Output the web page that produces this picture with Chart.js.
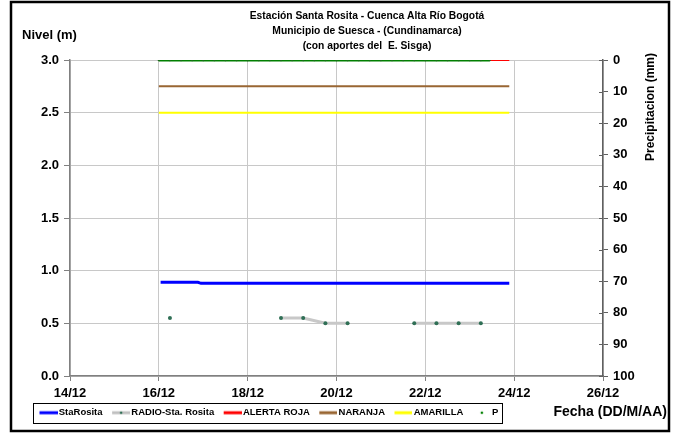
<!DOCTYPE html>
<html>
<head>
<meta charset="utf-8">
<script src="https://cdn.jsdelivr.net/npm/chart.js@4.4.0/dist/chart.umd.min.js"></script>
<style>
  html, body { margin: 0; padding: 0; background: #fff; }
  #wrap { width: 674px; height: 434px; }
</style>
</head>
<body>
<div id="wrap"><canvas id="levelChart" width="674" height="434"></canvas></div>
<script>
// Chart data (x = day of December)
const titleLines = [
  'Estación Santa Rosita - Cuenca Alta Río Bogotá',
  'Municipio de Suesca - (Cundinamarca)',
  '(con aportes del  E. Sisga)'
];
const dayTicks = [14, 16, 18, 20, 22, 24, 26];

const staRositaDays = [16.04, 16.88, 16.95, 23.89];
const staRositaLevel = [0.89, 0.89, 0.88, 0.88];

const radioDays = [16.25, 16.75, 18.75, 19.25, 19.75, 20.25, 21.25, 21.75, 22.25, 22.75, 23.25];
const radioLevel = [0.55, null, 0.55, 0.55, 0.50, 0.50, null, 0.50, 0.50, 0.50, 0.50];

const thresholdDays = [16.0, 23.89];
const alertaRoja = [3.0, 3.0];
const naranja = [2.75, 2.75];
const amarilla = [2.5, 2.5];

const precipDays = [16.0, 16.25, 16.5, 16.75, 17.0, 17.25, 17.5, 17.75, 18.0, 18.25, 18.5, 18.75,
  19.0, 19.25, 19.5, 19.75, 20.0, 20.25, 20.5, 20.75, 21.0, 21.25, 21.5, 21.75,
  22.0, 22.25, 22.5, 22.75, 23.0, 23.25, 23.45];
const precipMm = [0, 0, 0, 0, 0, 0, 0, 0, 0, 0, 0, 0, 0, 0, 0, 0,
  0, 0, 0, 0, 0, 0, 0, 0, 0, 0, 0, 0, 0, 0, 0];

const FONT = '"Liberation Sans", Arial, sans-serif';

function toPoints(xs, ys) {
  return xs.map((x, i) => ({ x: x, y: ys[i] }));
}

// legend symbol: 24px wide canvas, mark sits on its right part so the text follows it closely
function legendIcon(lineColor, dotColor) {
  const c = document.createElement('canvas');
  c.width = 24; c.height = 8;
  const g = c.getContext('2d');
  if (lineColor) {
    g.strokeStyle = lineColor;
    g.lineWidth = 3;
    g.beginPath(); g.moveTo(6, 4); g.lineTo(24, 4); g.stroke();
  }
  if (dotColor) {
    g.fillStyle = dotColor;
    g.beginPath(); g.arc(15, 4, 1.3, 0, Math.PI * 2); g.fill();
  }
  return c;
}

const decorations = {
  id: 'decorations',
  afterDraw(chart) {
    const ctx = chart.ctx;
    ctx.save();
    ctx.fillStyle = '#000';

    // title
    ctx.font = 'bold 10.3px ' + FONT;
    ctx.textAlign = 'center';
    ctx.textBaseline = 'middle';
    titleLines.forEach((t, i) => ctx.fillText(t, 367, 16 + i * 15));

    // axis titles
    ctx.font = 'bold 13px ' + FONT;
    ctx.textAlign = 'left';
    ctx.fillText('Nivel (m)', 22, 35);

    ctx.save();
    ctx.font = 'bold 12px ' + FONT;
    ctx.translate(651, 107);
    ctx.rotate(-Math.PI / 2);
    ctx.textAlign = 'center';
    ctx.fillText('Precipitacion (mm)', 0, 0);
    ctx.restore();

    ctx.font = 'bold 14px ' + FONT;
    ctx.textAlign = 'right';
    ctx.fillText('Fecha (DD/M/AA)', 667, 412);

    // inner half of the right axis tick marks
    const y2 = chart.scales.y2;
    ctx.strokeStyle = '#606060';
    ctx.lineWidth = 1;
    y2.ticks.forEach(t => {
      const py = Math.round(y2.getPixelForValue(t.value)) + 0.5;
      ctx.beginPath();
      ctx.moveTo(y2.left - 4, py);
      ctx.lineTo(y2.left, py);
      ctx.stroke();
    });

    // legend frame
    const boxes = chart.legend.legendHitBoxes;
    if (boxes && boxes.length) {
      const first = boxes[0], last = boxes[boxes.length - 1];
      ctx.strokeStyle = '#000';
      ctx.lineWidth = 1;
      ctx.strokeRect(Math.round(first.left - 4) + 0.5, Math.round(first.top - 5) + 0.5,
        Math.round(last.left + last.width - first.left + 8), Math.round(first.height + 10));
    }

    // outer frame
    ctx.strokeStyle = '#000';
    ctx.lineWidth = 2.5;
    ctx.strokeRect(11, 2, 658, 429);
    ctx.restore();
  }
};

const legendIcons = [
  legendIcon('#0000ff', null),
  legendIcon('#c0c0c0', '#2f6f55'),
  legendIcon('#ff0000', null),
  legendIcon('#996633', null),
  legendIcon('#ffff00', null),
  legendIcon(null, '#008000')
];

new Chart(document.getElementById('levelChart'), {
  type: 'line',
  data: {
    datasets: [
      {
        label: 'StaRosita',
        data: toPoints(staRositaDays, staRositaLevel),
        borderColor: '#0000ff', borderWidth: 3, pointRadius: 0,
        yAxisID: 'y', order: 1
      },
      {
        label: 'RADIO-Sta. Rosita',
        data: toPoints(radioDays, radioLevel),
        borderColor: '#c8c8c8', borderWidth: 3, spanGaps: false,
        pointRadius: 2, pointBorderWidth: 0, pointBackgroundColor: '#2f6f55',
        yAxisID: 'y', order: 2
      },
      {
        label: 'ALERTA ROJA',
        data: toPoints(thresholdDays, alertaRoja),
        borderColor: '#ff0000', borderWidth: 2, pointRadius: 0,
        yAxisID: 'y', order: 5
      },
      {
        label: 'NARANJA',
        data: toPoints(thresholdDays, naranja),
        borderColor: '#996633', borderWidth: 2, pointRadius: 0,
        yAxisID: 'y', order: 4
      },
      {
        label: 'AMARILLA',
        data: toPoints(thresholdDays, amarilla),
        borderColor: '#ffff00', borderWidth: 2, pointRadius: 0,
        yAxisID: 'y', order: 4
      },
      {
        label: 'P',
        data: toPoints(precipDays, precipMm),
        borderColor: '#008000', borderWidth: 3,
        pointRadius: 1.2, pointBorderWidth: 0, pointBackgroundColor: '#1a6a1a',
        yAxisID: 'y2', order: 0
      }
    ]
  },
  options: {
    responsive: false,
    animation: false,
    events: [],
    layout: { padding: { left: 30, right: 0, top: 60, bottom: 6.5 } },
    plugins: {
      title: { display: false },
      tooltip: { enabled: false },
      legend: {
        position: 'bottom',
        align: 'start',
        labels: {
          usePointStyle: true,
          pointStyleWidth: 17,
          boxHeight: 8,
          padding: 7,
          color: '#000',
          font: { family: FONT, size: 9.5, weight: 'bold' },
          generateLabels(chart) {
            return chart.data.datasets.map((ds, i) => ({
              text: ds.label,
              pointStyle: legendIcons[i],
              fillStyle: 'transparent',
              strokeStyle: 'transparent',
              lineWidth: 0,
              datasetIndex: i
            }));
          }
        }
      }
    },
    scales: {
      x: {
        type: 'linear',
        min: 14, max: 26,
        afterFit(scale) { scale.height = 25; },
        afterBuildTicks(scale) { scale.ticks = dayTicks.map(v => ({ value: v })); },
        ticks: {
          color: '#000',
          font: { family: FONT, size: 13, weight: 'bold' },
          padding: 5,
          maxRotation: 0,
          callback: v => v + '/12'
        },
        grid: { color: '#c8c8c8', tickColor: '#808080', tickLength: 5 },
        border: { color: '#808080', width: 1.5 }
      },
      y: {
        position: 'left',
        min: 0, max: 3,
        afterFit(scale) { scale.width = 40; },
        ticks: {
          stepSize: 0.5,
          color: '#000',
          font: { family: FONT, size: 13, weight: 'bold' },
          padding: 5,
          callback: v => Number(v).toFixed(1)
        },
        grid: { color: '#c8c8c8', tickColor: '#808080', tickLength: 6 },
        border: { color: '#808080', width: 1.5 }
      },
      y2: {
        position: 'right',
        reverse: true,
        min: 0, max: 100,
        afterFit(scale) { scale.width = 71; },
        ticks: {
          stepSize: 10,
          color: '#000',
          font: { family: FONT, size: 13, weight: 'bold' },
          padding: 5
        },
        grid: { drawOnChartArea: false, tickColor: '#606060', tickLength: 5 },
        border: { color: '#606060', width: 1.5 }
      }
    }
  },
  plugins: [decorations]
});
</script>
</body>
</html>
